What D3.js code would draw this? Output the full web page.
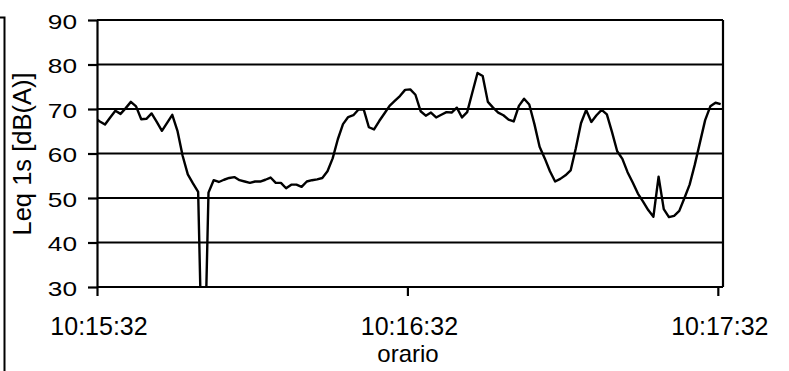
<!DOCTYPE html>
<html>
<head>
<meta charset="utf-8">
<script src="https://cdn.jsdelivr.net/npm/d3@7"></script>
<style>
  html, body { margin: 0; padding: 0; background: #ffffff; }
  svg { display: block; }
  text { font-family: "Liberation Sans", Arial, sans-serif; fill: #000; }
</style>
</head>
<body>
<svg id="chart" width="789" height="371"></svg>
<script>
// Time axis: seconds after 10:15:32 and the labels shown at each tick
const tickSeconds = [0, 60, 120];
const timeLabels = ["10:15:32", "10:16:32", "10:17:32"];
const axisEndSecond = 121;

// Level axis ticks, dB(A)
const levelTicks = [30, 40, 50, 60, 70, 80, 90];

// One Leq reading per second; first reading at 0.45 s before 10:15:32
const firstSampleSecond = -0.45;
const leq = [
  68.0, 67.2, 66.5, 68.1, 69.6, 68.9, 70.2, 71.6, 70.6, 67.7,
  67.8, 69.0, 67.1, 65.1, 66.9, 68.7, 65.1, 59.5, 55.3, 53.3,
  51.4, 0.0, 51.2, 54.0, 53.6, 54.1, 54.5, 54.7, 54.0, 53.7,
  53.4, 53.7, 53.7, 54.1, 54.6, 53.4, 53.4, 52.2, 53.0, 53.0,
  52.5, 53.7, 54.0, 54.2, 54.5, 56.0, 58.9, 63.2, 66.6, 68.2,
  68.6, 69.9, 69.9, 65.9, 65.4, 67.3, 69.0, 70.7, 71.8, 72.9,
  74.3, 74.4, 73.2, 69.5, 68.5, 69.2, 68.1, 68.7, 69.3, 69.2,
  70.3, 68.1, 69.3, 73.7, 78.1, 77.4, 71.6, 70.3, 69.2, 68.6,
  67.6, 67.2, 70.7, 72.3, 71.0, 66.6, 61.5, 58.9, 56.0, 53.7,
  54.3, 55.1, 56.2, 61.2, 66.8, 69.8, 67.1, 68.6, 69.8, 68.8,
  64.8, 60.5, 58.8, 55.8, 53.5, 51.0, 49.2, 47.3, 45.8, 54.8,
  47.5, 45.7, 46.0, 47.1, 50.0, 53.0, 57.5, 62.5, 67.5, 70.6,
  71.4, 71.1
];

const yTitle = "Leq 1s [dB(A)]";
const xTitle = "orario";

const svg = d3.select("#chart");
const plot = { left: 97, right: 723, top: 20, bottom: 287 };

const x = d3.scaleLinear().domain([0, axisEndSecond]).range([plot.left, plot.right]);
const y = d3.scaleLinear().domain([30, 90]).range([plot.bottom, plot.top]);

// Frame edge on the left side of the page
svg.append("path")
  .attr("d", "M0,17.5H4.5V371")
  .attr("fill", "none").attr("stroke", "#000").attr("stroke-width", 2);

// Horizontal grid lines
svg.append("g").selectAll("line")
  .data(levelTicks)
  .join("line")
  .attr("x1", plot.left).attr("x2", plot.right)
  .attr("y1", d => y(d)).attr("y2", d => y(d))
  .attr("stroke", "#000").attr("stroke-width", 2.2);

// Right edge of the plot area
svg.append("line")
  .attr("x1", plot.right).attr("x2", plot.right)
  .attr("y1", plot.top).attr("y2", plot.bottom)
  .attr("stroke", "#000").attr("stroke-width", 2.2);

// Data line, clipped to the plot area
svg.append("clipPath").attr("id", "plotClip")
  .append("rect")
  .attr("x", plot.left).attr("y", plot.top)
  .attr("width", plot.right - plot.left).attr("height", plot.bottom - plot.top);

const series = leq.map((v, i) => ({ t: firstSampleSecond + i, v }));
const line = d3.line().x(d => x(d.t)).y(d => y(d.v));
svg.append("path")
  .datum(series)
  .attr("clip-path", "url(#plotClip)")
  .attr("d", line)
  .attr("fill", "none")
  .attr("stroke", "#000")
  .attr("stroke-width", 2.4)
  .attr("stroke-linejoin", "round");

// Level axis
const yAxis = svg.append("g")
  .attr("transform", `translate(${plot.left},0)`)
  .call(d3.axisLeft(y).tickValues(levelTicks).tickSize(9).tickSizeOuter(0).tickFormat(""));
yAxis.selectAll("path, line").attr("stroke", "#000").attr("stroke-width", 2.2);

// Time axis
const xAxis = svg.append("g")
  .attr("transform", `translate(0,${plot.bottom})`)
  .call(d3.axisBottom(x).tickValues(tickSeconds).tickSize(9).tickSizeOuter(0).tickFormat(""));
xAxis.select(".domain").remove();
xAxis.selectAll("line").attr("stroke", "#000").attr("stroke-width", 2.2);
svg.append("line")
  .attr("x1", plot.left).attr("x2", plot.right)
  .attr("y1", plot.bottom).attr("y2", plot.bottom)
  .attr("stroke", "#000").attr("stroke-width", 2.2);

// Level tick labels
svg.append("g").selectAll("text")
  .data(levelTicks)
  .join("text")
  .attr("transform", d => `translate(77,${y(d) + 8.5}) scale(1.25,1)`)
  .attr("text-anchor", "end")
  .attr("font-size", 21)
  .text(d => d);

// Time tick labels
svg.append("g").selectAll("text")
  .data(tickSeconds)
  .join("text")
  .attr("x", d => x(d) + 2)
  .attr("y", 335)
  .attr("text-anchor", "middle")
  .attr("font-size", 25)
  .text((d, i) => timeLabels[i]);

// Axis titles
svg.append("text")
  .attr("x", 408).attr("y", 362)
  .attr("text-anchor", "middle")
  .attr("font-size", 24)
  .text(xTitle);

svg.append("text")
  .attr("transform", "translate(31,154) rotate(-90)")
  .attr("text-anchor", "middle")
  .attr("font-size", 25.5)
  .text(yTitle);
</script>
</body>
</html>
